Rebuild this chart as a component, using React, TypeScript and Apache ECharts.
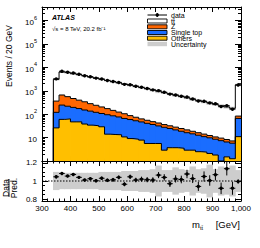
import React, { useEffect, useRef } from 'react';
import * as echarts from 'echarts';

// ---- data (bins of 20 GeV, last bin includes overflow) ----
const binLowEdges = [340, 360, 380, 400, 420, 440, 460, 480, 500, 520, 540, 560, 580, 600, 620, 640, 660, 680, 700, 720, 740, 760, 780, 800, 820, 840, 860, 880, 900, 920, 940, 960, 980];
const BIN_WIDTH = 20;

const ttbar = [2727, 5649, 5328, 4902, 4502, 4031, 3608, 3230, 2886, 2576, 2305, 2067, 1845, 1653, 1476, 1317, 1175, 1032, 913, 796, 709, 618, 550, 480, 418, 373, 325, 290, 252, 220, 196, 171, 1697];
const zjets = [243, 416, 343, 273, 224, 188, 147, 120, 97, 78, 60, 47, 39, 28, 21.5, 16.2, 14.3, 11.7, 10.4, 8.5, 7.5, 6.6, 5.9, 5.2, 4.1, 3.6, 3.1, 2.5, 2.2, 2.1, 1.8, 1.45, 17];
const singleTop = [94, 185, 156, 148, 127, 113, 101, 88, 78, 81, 72, 63, 55, 50, 44, 39, 35, 30.7, 26, 24.6, 20.8, 17.7, 15.1, 13.3, 11.6, 10.1, 8.6, 7.7, 6.7, 7.4, 5.0, 4.5, 55];
const others = [26, 60, 63, 47, 47, 38, 34, 32, 29, 14, 13.5, 13.2, 10.7, 9.1, 8.5, 7.8, 5.6, 5.6, 5.6, 2.9, 3.7, 3.7, 3.5, 2.9, 2.9, 2.5, 2.4, 2.1, 1.8, 0, 1.5, 1.25, 11];
const observed = [3232, 6834, 6208, 5757, 5096, 4414, 3987, 3480, 3183, 2769, 2484, 2278, 1880, 1820, 1566, 1408, 1248, 1091, 1017, 865, 719, 661, 584, 540, 448, 366, 356, 304, 281, 211, 232, 164, 1771];
const relUnc = [0.10, 0.09, 0.09, 0.09, 0.09, 0.09, 0.09, 0.09, 0.10, 0.10, 0.10, 0.10, 0.11, 0.11, 0.11, 0.12, 0.12, 0.13, 0.17, 0.12, 0.12, 0.15, 0.13, 0.12, 0.16, 0.13, 0.14, 0.18, 0.13, 0.16, 0.15, 0.17, 0.12];

const logMajor = [1, 10, 100, 1000, 10000, 100000, 1000000];
const logLabels = [10, 100, 1000, 10000, 100000, 1000000];
const ratioLabels = [0.8, 1, 1.2];
const ratioMinor = [0.8, 0.85, 0.9, 0.95, 1, 1.05, 1.1, 1.15, 1.2];

const X_MIN = 300;
const X_MAX = 1000;
const Y_MIN = 1;
const Y_MAX = 3.8e6;
const R_MIN = 0.78;
const R_MAX = 1.22;

const FONT = '"Liberation Sans", Arial, Helvetica, sans-serif';
const C_Z = '#ff6600';
const C_ST = '#1a6dff';
const C_OTH = '#ffbf00';
const C_UNC = '#cdcdcd';

const logMinor: number[] = [];
for (let e = 0; e < 7; e++) {
  for (let m = 2; m <= 9; m++) {
    const v = m * Math.pow(10, e);
    if (v < Y_MAX) logMinor.push(v);
  }
}

function cumulative(...arrs: number[][]) {
  return arrs[0].map((_, i) => arrs.reduce((s, a) => s + a[i], 0));
}

const cumOthers = others.slice();
const cumST = cumulative(others, singleTop);
const cumZ = cumulative(others, singleTop, zjets);
const cumTotal = cumulative(others, singleTop, zjets, ttbar);

function rectRender(color: string) {
  return (params: any, api: any) => {
    const x0 = api.value(0);
    const x1 = api.value(1);
    const lo = api.value(2);
    const hi = api.value(3);
    if (!(hi > lo)) return { type: 'group', children: [] };
    const p0 = api.coord([x0, hi]);
    const p1 = api.coord([x1, lo]);
    return {
      type: 'rect',
      shape: { x: p0[0] - 0.4, y: p0[1], width: p1[0] - p0[0] + 0.8, height: p1[1] - p0[1] },
      style: { fill: color },
    };
  };
}

function fillSeries(name: string, color: string, lower: number[], upper: number[], z: number) {
  return {
    type: 'custom',
    name,
    xAxisIndex: 0,
    yAxisIndex: 0,
    z,
    clip: true,
    silent: true,
    encode: { x: [0, 1], y: [2, 3] },
    data: binLowEdges.map((x0, i) => [x0, x0 + BIN_WIDTH, Math.max(lower[i], Y_MIN), Math.max(upper[i], Y_MIN)]),
    renderItem: rectRender(color),
  };
}

function outlineSeries(cum: number[], z: number) {
  const pts: number[][] = [[binLowEdges[0], Y_MIN]];
  binLowEdges.forEach((x0, i) => pts.push([x0, Math.max(cum[i], Y_MIN)]));
  pts.push([binLowEdges[binLowEdges.length - 1] + BIN_WIDTH, Math.max(cum[cum.length - 1], Y_MIN)]);
  return {
    type: 'line',
    xAxisIndex: 0,
    yAxisIndex: 0,
    step: 'end',
    symbol: 'none',
    z,
    silent: true,
    data: pts,
    lineStyle: { color: '#000', width: 1 },
  };
}

function pointRender(params: any, api: any) {
  const xc = api.value(0);
  const y = api.value(1);
  const err = api.value(2);
  const pc = api.coord([xc, y]);
  const pl = api.coord([xc - BIN_WIDTH / 2, y]);
  const pr = api.coord([xc + BIN_WIDTH / 2, y]);
  const pt = api.coord([xc, y + err]);
  const pb = api.coord([xc, y - err]);
  return {
    type: 'group',
    children: [
      { type: 'line', shape: { x1: pl[0], y1: pc[1], x2: pr[0], y2: pc[1] }, style: { stroke: '#000', lineWidth: 1 } },
      { type: 'line', shape: { x1: pc[0], y1: pt[1], x2: pc[0], y2: pb[1] }, style: { stroke: '#000', lineWidth: 1 } },
      { type: 'circle', shape: { cx: pc[0], cy: pc[1], r: 1.7 }, style: { fill: '#000' } },
    ],
  };
}

const axisLine = { show: true, onZero: false, lineStyle: { color: '#000', width: 1 } };
const tickLine = { color: '#000', width: 1 };

function xAxisCfg(gridIndex: number, position: string, labels: boolean) {
  return {
    type: 'value',
    gridIndex,
    position,
    min: X_MIN,
    max: X_MAX,
    interval: 100,
    axisLine,
    axisTick: { show: true, inside: true, length: 5, lineStyle: tickLine },
    minorTick: { show: true, splitNumber: 5, length: 2.5, lineStyle: tickLine },
    splitLine: { show: false },
    axisLabel: labels
      ? { show: true, fontSize: 8, color: '#000', fontFamily: FONT, margin: 3, showMinLabel: true, showMaxLabel: true }
      : { show: false },
  };
}

function logAxisCfg(position: string, major: boolean, labels: boolean) {
  return {
    type: 'log',
    gridIndex: 0,
    position,
    min: Y_MIN,
    max: Y_MAX,
    logBase: 10,
    axisLine: major ? axisLine : { show: false },
    axisTick: { show: true, inside: true, length: major ? 6 : 3, lineStyle: tickLine, customValues: major ? logMajor : logMinor },
    splitLine: { show: false },
    axisLabel: labels
      ? {
          show: true,
          customValues: logLabels,
          margin: 5,
          color: '#000',
          fontFamily: FONT,
          formatter: (v: number) => {
            const e = Math.round(Math.log10(v));
            if (e === 1) return '{a|10}';
            return '{a|10}{b|' + e + '}';
          },
          rich: {
            a: { fontSize: 8, fontFamily: FONT, color: '#000', lineHeight: 12, verticalAlign: 'bottom' },
            b: { fontSize: 5.5, fontFamily: FONT, color: '#000', lineHeight: 6, verticalAlign: 'top' },
          },
        }
      : { show: false },
  };
}

function ratioAxisCfg(position: string, major: boolean, labels: boolean) {
  return {
    type: 'value',
    gridIndex: 1,
    position,
    min: R_MIN,
    max: R_MAX,
    axisLine: major ? axisLine : { show: false },
    axisTick: { show: true, inside: true, length: major ? 6 : 3, lineStyle: tickLine, customValues: major ? ratioLabels : ratioMinor },
    splitLine: { show: false },
    axisLabel: labels
      ? {
          show: true,
          customValues: ratioLabels,
          margin: 5,
          fontSize: 8,
          color: '#000',
          fontFamily: FONT,
          formatter: (v: number) => String(Math.round(v * 10) / 10),
        }
      : { show: false },
  };
}

const legendRows = [
  { label: 'data', kind: 'data', y: 15 },
  { label: 't\u0074\u0304', kind: 'box', color: '#ffffff', y: 21 },
  { label: 'Z', kind: 'box', color: C_Z, y: 26.8 },
  { label: 'Single top', kind: 'box', color: C_ST, y: 32.5 },
  { label: 'Others', kind: 'box', color: C_OTH, y: 38.2 },
  { label: 'Uncertainty', kind: 'unc', color: C_UNC, y: 44 },
];

function buildLegend() {
  const els: any[] = [];
  const lx = 147.5;
  const lw = 19.5;
  legendRows.forEach((r) => {
    if (r.kind === 'data') {
      els.push({ type: 'line', shape: { x1: lx, y1: r.y, x2: lx + lw, y2: r.y }, style: { stroke: '#000', lineWidth: 1 } });
      els.push({ type: 'line', shape: { x1: lx + lw / 2, y1: r.y - 2, x2: lx + lw / 2, y2: r.y + 2 }, style: { stroke: '#000', lineWidth: 1 } });
      els.push({ type: 'circle', shape: { cx: lx + lw / 2, cy: r.y, r: 1.7 }, style: { fill: '#000' } });
    } else if (r.kind === 'box') {
      els.push({ type: 'rect', shape: { x: lx, y: r.y - 2, width: lw, height: 4 }, style: { fill: r.color, stroke: '#000', lineWidth: 0.9 } });
    } else {
      els.push({ type: 'rect', shape: { x: lx, y: r.y - 2.2, width: lw, height: 4.4 }, style: { fill: r.color } });
    }
    els.push({
      type: 'text',
      x: 171,
      y: r.y,
      style: { text: r.label, fontSize: 7, fontFamily: FONT, fill: '#000', align: 'left', verticalAlign: 'middle' },
    });
  });
  return els;
}

export default function App() {
  const ref = useRef<HTMLDivElement>(null);
  useEffect(() => {
    if (!ref.current) return;
    const chart = echarts.init(ref.current, undefined, { renderer: 'svg' });

    const centers = binLowEdges.map((x) => x + BIN_WIDTH / 2);

    const option: any = {
      animation: false,
      backgroundColor: '#ffffff',
      textStyle: { fontFamily: FONT },
      grid: [
        { left: 42, top: 7, width: 199, height: 154, outerBoundsMode: 'none', containLabel: false },
        { left: 42, top: 161, width: 199, height: 40, outerBoundsMode: 'none', containLabel: false },
      ],
      xAxis: [xAxisCfg(0, 'bottom', false), xAxisCfg(0, 'top', false), xAxisCfg(1, 'bottom', true), xAxisCfg(1, 'top', false)],
      yAxis: [
        logAxisCfg('left', true, true),
        logAxisCfg('left', false, false),
        logAxisCfg('right', true, false),
        logAxisCfg('right', false, false),
        ratioAxisCfg('left', true, true),
        ratioAxisCfg('left', false, false),
        ratioAxisCfg('right', true, false),
        ratioAxisCfg('right', false, false),
      ],
      series: [
        fillSeries('Others', C_OTH, binLowEdges.map(() => Y_MIN), cumOthers, 1),
        fillSeries('Single top', C_ST, cumOthers, cumST, 1),
        fillSeries('Z', C_Z, cumST, cumZ, 1),
        fillSeries('t\u0074\u0304', '#ffffff', cumZ, cumTotal, 1),
        {
          type: 'custom',
          name: 'Uncertainty',
          xAxisIndex: 0,
          yAxisIndex: 0,
          z: 2,
          clip: true,
          silent: true,
          encode: { x: [0, 1], y: [2, 3] },
          data: binLowEdges.map((x0, i) => [x0, x0 + BIN_WIDTH, cumTotal[i] * (1 - relUnc[i]), cumTotal[i] * (1 + relUnc[i])]),
          renderItem: rectRender(C_UNC),
        },
        outlineSeries(cumOthers, 3),
        outlineSeries(cumST, 3),
        outlineSeries(cumZ, 3),
        outlineSeries(cumTotal, 3),
        {
          type: 'custom',
          name: 'data',
          xAxisIndex: 0,
          yAxisIndex: 0,
          z: 5,
          clip: true,
          silent: true,
          encode: { x: 0, y: 1 },
          data: centers.map((c, i) => [c, observed[i], Math.sqrt(observed[i])]),
          renderItem: pointRender,
        },
        // ratio panel
        {
          type: 'custom',
          name: 'Uncertainty ratio',
          xAxisIndex: 2,
          yAxisIndex: 4,
          z: 1,
          clip: true,
          silent: true,
          encode: { x: [0, 1], y: [2, 3] },
          data: binLowEdges.map((x0, i) => [x0, x0 + BIN_WIDTH, 1 - relUnc[i], 1 + relUnc[i]]),
          renderItem: rectRender(C_UNC),
        },
        {
          type: 'line',
          xAxisIndex: 2,
          yAxisIndex: 4,
          z: 2,
          symbol: 'none',
          silent: true,
          data: [[X_MIN, 1], [X_MAX, 1]],
          lineStyle: { color: '#000', width: 1, type: [1.5, 1.5] },
        },
        {
          type: 'custom',
          name: 'data / pred',
          xAxisIndex: 2,
          yAxisIndex: 4,
          z: 5,
          clip: true,
          silent: true,
          encode: { x: 0, y: 1 },
          data: centers.map((c, i) => [c, observed[i] / cumTotal[i], Math.sqrt(observed[i]) / cumTotal[i]]),
          renderItem: pointRender,
        },
      ],
      graphic: {
        elements: [
          {
            type: 'text',
            x: 52,
            y: 17.5,
            style: { text: 'ATLAS', fontSize: 7, fontWeight: 'bold', fontStyle: 'italic', fontFamily: FONT, fill: '#000', align: 'left', verticalAlign: 'middle' },
          },
          {
            type: 'text',
            x: 52,
            y: 29,
            style: { text: '\u221As = 8 TeV, 20.2 fb\u207B\u00B9', fontSize: 6, fontFamily: FONT, fill: '#000', align: 'left', verticalAlign: 'middle' },
          },
          ...buildLegend(),
          {
            type: 'text',
            x: 8.5,
            y: 56,
            rotation: Math.PI / 2,
            style: { text: 'Events / 20 GeV', fontSize: 8.5, fontFamily: FONT, fill: '#000', align: 'center', verticalAlign: 'middle' },
          },
          {
            type: 'group',
            x: 9,
            y: 188,
            rotation: Math.PI / 2,
            children: [
              { type: 'text', x: 0, y: -3.5, style: { text: 'Data', fontSize: 8.5, fontFamily: FONT, fill: '#000', align: 'center', verticalAlign: 'middle' } },
              { type: 'line', shape: { x1: -9, y1: 0, x2: 9, y2: 0 }, style: { stroke: '#000', lineWidth: 0.8 } },
              { type: 'text', x: 0, y: 4.5, style: { text: 'Pred.', fontSize: 8.5, fontFamily: FONT, fill: '#000', align: 'center', verticalAlign: 'middle' } },
            ],
          },
          {
            type: 'text',
            x: 240,
            y: 224,
            style: { text: '[GeV]', fontSize: 9.5, fontFamily: FONT, fill: '#000', align: 'right', verticalAlign: 'middle' },
          },
          {
            type: 'text',
            x: 192,
            y: 224,
            style: { text: 'm', fontSize: 9.5, fontFamily: FONT, fill: '#000', align: 'left', verticalAlign: 'middle' },
          },
          {
            type: 'text',
            x: 200,
            y: 228,
            style: { text: 't\u0074\u0304', fontSize: 5.5, fontFamily: FONT, fill: '#000', align: 'left', verticalAlign: 'middle' },
          },
        ],
      },
    };

    chart.setOption(option);
    return () => chart.dispose();
  }, []);

  return <div ref={ref} style={{ position: 'fixed', left: 0, top: 0, width: 260, height: 248, background: '#fff' }} />;
}
